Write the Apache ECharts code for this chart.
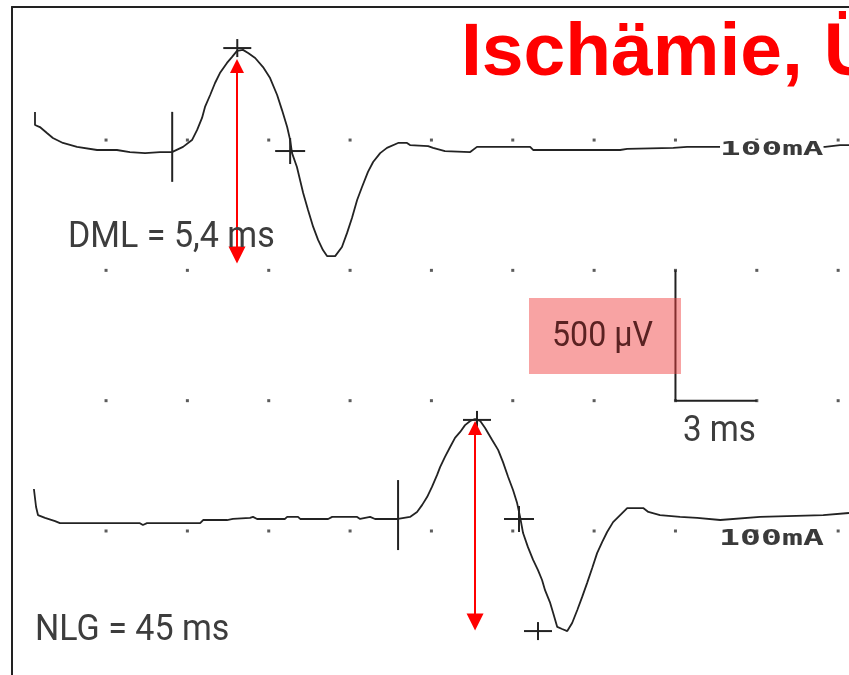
<!DOCTYPE html>
<html><head><meta charset="utf-8">
<script src="https://cdn.jsdelivr.net/npm/echarts@6/dist/echarts.min.js"></script>
<style>html,body{margin:0;padding:0;background:#fff}#c{width:849px;height:675px}</style>
</head><body><div id="c"></div>
<script>
// ---- data (time in ms, amplitude in µV relative to each trace's baseline) ----
const title = 'Ischämie, Ü';
const topTrace = [[0.38,146],[0.38,96],[0.56,88],[0.82,65],[1.04,46],[1.41,27],[1.93,12],[2.67,0],[3.40,0],[3.88,-8],[4.44,-12],[4.99,-8],[5.43,-8],[5.84,12],[6.17,38],[6.36,77],[6.54,123],[6.65,165],[6.84,211],[7.02,257],[7.20,295],[7.46,334],[7.65,357],[7.83,380],[8.05,384],[8.24,372],[8.50,353],[8.79,318],[9.05,276],[9.31,211],[9.49,153],[9.68,88],[9.79,38],[9.86,-12],[10.04,-65],[10.27,-165],[10.45,-230],[10.64,-295],[10.82,-345],[11.00,-384],[11.15,-407],[11.45,-407],[11.70,-372],[11.89,-318],[12.07,-261],[12.26,-192],[12.44,-142],[12.66,-84],[12.85,-46],[13.11,-12],[13.36,8],[13.77,27],[14.10,27],[14.21,19],[14.88,15],[15.06,8],[15.50,-4],[16.43,-8],[16.68,12],[18.64,12],[18.75,0],[21.96,0],[22.22,4],[23.92,8],[24.43,12],[29.52,12],[30.07,19],[30.40,19]];
const bottomTrace = [[0.34,119],[0.42,50],[0.49,19],[0.75,8],[1.12,-4],[1.30,-12],[4.25,-12],[4.36,-19],[4.51,-12],[6.47,-12],[6.58,0],[7.46,0],[7.68,4],[8.31,8],[8.42,12],[8.57,4],[9.60,4],[9.68,12],[10.08,12],[10.16,4],[11.19,4],[11.34,12],[12.26,12],[12.37,4],[12.74,12],[12.92,4],[13.77,4],[14.21,12],[14.47,31],[14.66,58],[14.84,88],[15.02,127],[15.21,173],[15.32,203],[15.50,242],[15.69,280],[15.87,315],[16.06,338],[16.24,364],[16.43,380],[16.61,387],[16.80,380],[16.98,353],[17.24,307],[17.46,269],[17.64,222],[17.83,165],[18.01,115],[18.16,65],[18.27,12],[18.38,-50],[18.56,-104],[18.75,-153],[18.93,-192],[19.08,-230],[19.19,-269],[19.38,-318],[19.49,-357],[19.64,-410],[19.82,-418],[20.01,-426],[20.19,-395],[20.38,-345],[20.56,-295],[20.74,-242],[20.93,-184],[21.11,-127],[21.30,-84],[21.48,-46],[21.70,-8],[21.96,19],[22.22,46],[22.81,46],[23.00,31],[23.43,19],[24.17,12],[24.80,8],[25.65,0],[27.12,12],[29.45,19],[30.40,27]];
// cursor markers: [time ms, amplitude µV, kind]
const topMarkers = [[5.44,12,'cursor'],[7.84,391,'peak'],[9.79,-4,'tee']];
const bottomMarkers = [[13.77,19,'cursor'],[16.68,384,'peak'],[18.23,4,'tee'],[18.93,-426,'peak']];
// amplitude arrows: [time ms, upper µV, lower µV]
const topArrow = [7.83, 322, -403];
const bottomArrow = [16.61, 353, -391];
// grid dots
const gridTimes = [3,6,9,12,15,18,21,24,27,30];
const gridLevels = [0,500,1000,1500];
// calibration bar
const scaleMs = 3, scaleUv = 500, scaleOrigin = [24, 500];
const labelDML = 'DML = 5,4 ms';
const labelNLG = 'NLG = 45 ms';
const labelAmp = '500 µV';
const labelTime = '3 ms';
const labelStim = '100mA';

const markerSize = {cursor:[0,35], peak:[14,9], tee:[15,13]};
const dots = [];
gridTimes.forEach(t => gridLevels.forEach(v => dots.push([t, v])));

const chart = echarts.init(document.getElementById('c'), null, {renderer:'canvas'});
const traceColor = '#232323';
function markerSeries(data, yIdx){
  return {type:'custom', xAxisIndex:0, yAxisIndex:yIdx, z:5, silent:true,
    data: data.map(d => [d[0], d[1], markerSize[d[2]][0], markerSize[d[2]][1]]),
    renderItem(params, api){
      const p = api.coord([api.value(0), api.value(1)]);
      const hw = api.value(2), hh = api.value(3);
      const st = {stroke:traceColor, lineWidth:2};
      const ch = [{type:'line', shape:{x1:p[0], y1:p[1]-hh, x2:p[0], y2:p[1]+hh}, style:st}];
      if (hw > 0) ch.push({type:'line', shape:{x1:p[0]-hw, y1:p[1], x2:p[0]+hw, y2:p[1]}, style:st});
      return {type:'group', children:ch};
    }};
}
function arrowSeries(a, yIdx){
  return {type:'lines', coordinateSystem:'cartesian2d', xAxisIndex:0, yAxisIndex:yIdx, z:6, silent:true,
    symbol:['triangle','triangle'], symbolSize:[14,17],
    lineStyle:{color:'#ff0000', width:2, opacity:1},
    data:[{coords:[[a[0], a[1]],[a[0], a[2]]]}]};
}
const txtFont = '37px Roboto';
chart.setOption({
  animation:false,
  backgroundColor:'#fff',
  grid:{left:12, top:7, right:0, bottom:0},
  xAxis:{type:'value', position:'top', min:-0.468, max:30.40,
    axisLine:{show:true, onZero:false, lineStyle:{color:'#222', width:2}},
    axisTick:{show:false}, axisLabel:{show:false}, splitLine:{show:false}},
  yAxis:[
    {type:'value', min:-552.6, max:2010.5, position:'left',
      axisLine:{show:true, onZero:false, lineStyle:{color:'#222', width:2}},
      axisTick:{show:false}, axisLabel:{show:false}, splitLine:{show:false}},
    {type:'value', min:-2013.9, max:548.5, show:false},
    {type:'value', min:-594.5, max:1967.9, show:false}
  ],
  series:[
    {type:'scatter', xAxisIndex:0, yAxisIndex:0, data:dots, symbol:'rect', symbolSize:3,
      itemStyle:{color:'#333'}, silent:true, z:1},
    {type:'line', xAxisIndex:0, yAxisIndex:0, silent:true, showSymbol:false, z:3,
      lineStyle:{color:'#222', width:2},
      data:[[scaleOrigin[0], scaleOrigin[1]+scaleUv],[scaleOrigin[0], scaleOrigin[1]],[scaleOrigin[0]+scaleMs, scaleOrigin[1]]]},
    {type:'line', xAxisIndex:0, yAxisIndex:1, data:topTrace, showSymbol:false, silent:true, z:4,
      lineStyle:{color:traceColor, width:1.8}},
    {type:'line', xAxisIndex:0, yAxisIndex:2, data:bottomTrace, showSymbol:false, silent:true, z:4,
      lineStyle:{color:traceColor, width:1.8}},
    markerSeries(topMarkers, 1),
    markerSeries(bottomMarkers, 2),
    arrowSeries(topArrow, 1),
    arrowSeries(bottomArrow, 2)
  ],
  graphic:[
    {type:'text', x:461, y:92, z:20, style:{text:title, font:'bold 75px "Liberation Sans", Arial, sans-serif', fill:'#ff0000', verticalAlign:'bottom'}},
    {type:'text', x:68, y:238, z:20, scaleX:0.92, style:{text:labelDML, font:txtFont, fill:'#3d3d3d', verticalAlign:'middle'}},
    {type:'text', x:35, y:631, z:20, scaleX:0.92, style:{text:labelNLG, font:txtFont, fill:'#3d3d3d', verticalAlign:'middle'}},
    {type:'rect', z:30, shape:{x:529, y:298, width:152, height:76}, style:{fill:'rgba(240,60,60,0.47)'}},
    {type:'text', x:552, y:337, z:31, scaleX:0.92, style:{text:labelAmp, font:'35px Roboto', fill:'#5a2222', verticalAlign:'middle'}},
    {type:'text', x:683, y:432, z:20, scaleX:0.92, style:{text:labelTime, font:'36px Roboto', fill:'#3d3d3d', verticalAlign:'middle'}},
    {type:'text', x:720, y:150, z:20, scaleX:1.72, style:{text:labelStim, font:'bold 20px "DejaVu Sans Mono"', fill:'#3a3a3a', verticalAlign:'middle', backgroundColor:'#fff'}},
    {type:'text', x:719, y:540, z:20, scaleX:1.66, style:{text:labelStim, font:'bold 21px "DejaVu Sans Mono"', fill:'#3a3a3a', verticalAlign:'middle'}}
  ]
});
</script></body></html>
